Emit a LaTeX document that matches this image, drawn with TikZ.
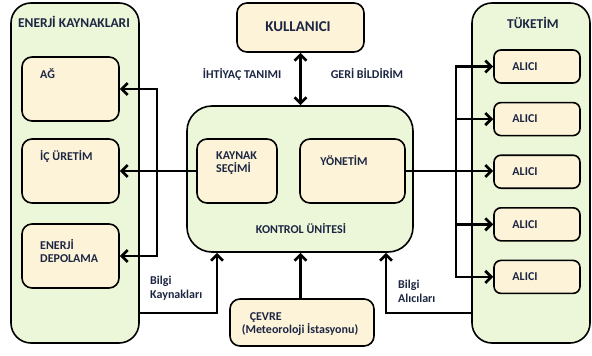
\documentclass[tikz,border=0pt]{standalone}
\usepackage{fontspec}
\setmainfont{Carlito}
\usepackage{xcolor}
\usepackage{tikz}
\usetikzlibrary{arrows.meta,positioning}
\definecolor{groupfill}{RGB}{236,246,216}
\definecolor{boxfill}{RGB}{253,243,217}
\definecolor{txtcol}{RGB}{28,38,66}
\tikzstyle{group} = [rectangle, rounded corners=20pt, draw=black, line width=1.6pt, fill=groupfill, inner sep=0pt]
\tikzstyle{box} = [rectangle, rounded corners=10pt, draw=black, line width=1.6pt, fill=boxfill, inner sep=0pt]
\tikzstyle{alici} = [rectangle, rounded corners=7pt, draw=black, line width=1.6pt, fill=boxfill, inner sep=0pt, minimum width=86pt, minimum height=33pt]
\tikzstyle{txt} = [text=txtcol, font=\fontsize{12}{13.5}\selectfont\bfseries, inner sep=0pt, align=left]
\tikzstyle{title} = [txt, font=\fontsize{13.5}{15}\selectfont\bfseries]
\tikzstyle{arrow} = [line width=2.7pt, -{Straight Barb[length=6pt,width=12pt]}]

\begin{document}
\begin{tikzpicture}[x=1pt,y=-1pt]

	\useasboundingbox (0,0) rectangle (592,356);

	% kaynaklar
	\node (enr) [group, minimum width=128pt, minimum height=340pt] at (75,173) {};
	\node (enrt) [title] at (74,22) {ENERJİ KAYNAKLARI};
	\node (ag) [box, minimum width=97pt, minimum height=64pt] at (70.5,89) {};
	\node (agt) [txt, anchor=west] at (40,74) {AĞ};
	\node (icu) [box, minimum width=97pt, minimum height=64pt] at (70.5,171) {};
	\node (icut) [txt, anchor=west] at (40,156) {İÇ ÜRETİM};
	\node (dep) [box, minimum width=97pt, minimum height=64pt] at (70.5,256) {};
	\node (dept) [txt, anchor=west] at (40,251) {ENERJİ\\DEPOLAMA};

	% kullanici ve kontrol
	\node (kul) [box, minimum width=127pt, minimum height=49pt] at (300.5,27.5) {};
	\node (kult) [txt, font=\fontsize{15}{17}\selectfont\bfseries] at (298,27) {KULLANICI};
	\node (iht) [txt] at (242,74) {İHTİYAÇ TANIMI};
	\node (geri) [txt] at (367,74) {GERİ BİLDİRİM};
	\node (ctrl) [group, rounded corners=25pt, minimum width=226pt, minimum height=146pt] at (300,179) {};
	\node (ctrlt) [txt] at (301,229) {KONTROL ÜNİTESİ};
	\node (ks) [box, minimum width=80pt, minimum height=64pt] at (237,171) {};
	\node (kst) [txt, anchor=west] at (216,163) {KAYNAK\\SEÇİMİ};
	\node (yon) [box, minimum width=105pt, minimum height=64pt] at (352.5,171) {};
	\node (yont) [txt] at (344,161) {YÖNETİM};
	\node (cev) [box, minimum width=144pt, minimum height=47pt] at (302,322.5) {};
	\node (cevt) [txt] at (300,324) {\hspace*{8pt}ÇEVRE\\(Meteoroloji İstasyonu)};

	% tuketim
	\node (tuk) [group, minimum width=118pt, minimum height=340pt] at (531,173) {};
	\node (tukt) [title] at (533,23) {TÜKETİM};
	\node (a1) [alici] at (537,66.5) {};
	\node (a2) [alici, below=18pt of a1] {};
	\node (a3) [alici, below=18pt of a2] {};
	\node (a4) [alici, below=18pt of a3] {};
	\node (a5) [alici, below=18pt of a4] {};
	\foreach \i in {1,...,5}
		\node (a\i t) [txt] at ([xshift=-12pt]a\i) {ALICI};

	% bilgi etiketleri
	\node (bkt) [txt, anchor=north west] at (150,276) {Bilgi\\Kaynakları};
	\node (bat) [txt, anchor=north west] at (398,280) {Bilgi\\Alıcıları};

	% baglantilar
	\coordinate (jl) at (157,171);
	\coordinate (jr) at (456,171);
	\coordinate (bk) at (217,313);
	\coordinate (ba) at (386,313);
	\draw [arrow] (ks.west) -- (icu.east);
	\draw [arrow] (jl) |- (ag.east);
	\draw [arrow] (jl) |- (dep.east);
	\draw [line width=2.7pt, {Straight Barb[length=6pt,width=12pt]}-{Straight Barb[length=6pt,width=12pt]}] (kul.south) -- (kul.south |- ctrl.north);
	\draw [arrow] (yon.east) -- (yon.east -| a3.west);
	\foreach \i in {1,2,4,5}
		\draw [arrow] (jr) |- (a\i.west);
	\draw [arrow] (cev.north -| kul.south) -- (kul.south |- ctrl.south);
	\draw [arrow] (enr.east |- bk) -- (bk) -- (bk |- ctrl.south);
	\draw [arrow] (tuk.west |- ba) -- (ba) -- (ba |- ctrl.south);

\end{tikzpicture}
\end{document}
